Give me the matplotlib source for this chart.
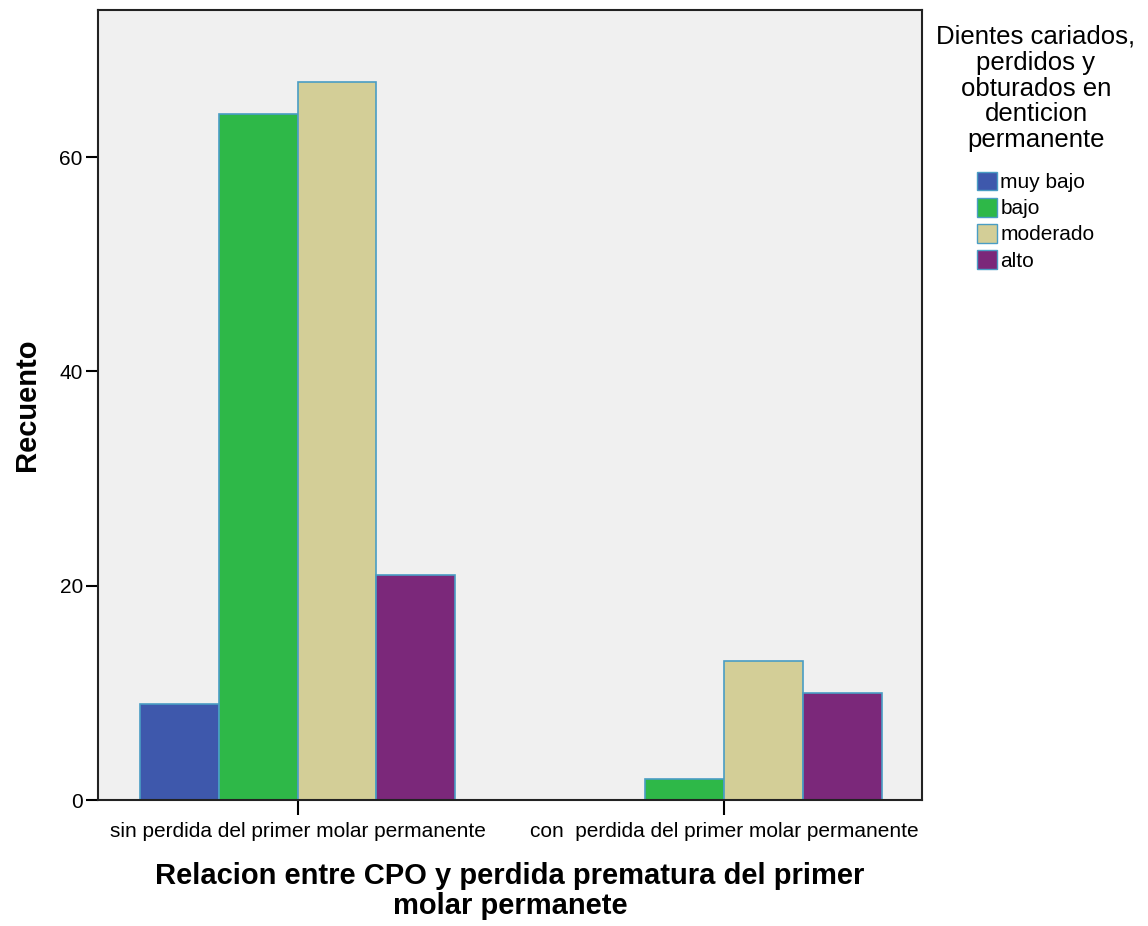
import matplotlib
matplotlib.use('Agg')
import matplotlib.pyplot as plt
import numpy as np

plt.rcParams['font.family'] = ['Liberation Sans', 'DejaVu Sans']

categories = ['sin perdida del primer molar permanente', 'con  perdida del primer molar permanente']
series = ['muy bajo', 'bajo', 'moderado', 'alto']
muy_bajo = [9, 0]
bajo = [64, 2]
moderado = [67, 13]
alto = [21, 10]
colors = ['#3E58AC', '#2EB848', '#D3CE97', '#7B287A']

fig = plt.figure(figsize=(11.48, 9.26), dpi=100)
ax = fig.add_axes([0.0854, 0.136, 0.7176, 0.853])
ax.set_facecolor('#F0F0F0')

x = np.arange(len(categories))
w = 0.185
values = [muy_bajo, bajo, moderado, alto]
for i, (name, vals, c) in enumerate(zip(series, values, colors)):
	pos = x + (i - 1.5) * w
	for p, v in zip(pos, vals):
		if v > 0:
			ax.bar(p, v, width=w, color=c, edgecolor='#4A9DC4', linewidth=1.2)
	ax.bar([0], [0], width=0, color=c, edgecolor='#4A9DC4', label=name)

ax.set_xlim(-0.468, 1.464)
ax.set_ylim(0, 73.7)
ax.set_yticks([0, 20, 40, 60])
ax.set_xticks(x)
ax.set_xticklabels(categories, fontsize=15)
ax.tick_params(axis='y', labelsize=15, length=9, width=1.5, pad=2)
ax.tick_params(axis='x', length=11, width=1.5, pad=5)
for s in ax.spines.values():
	s.set_linewidth(1.5)
	s.set_color('#222222')

ax.set_ylabel('Recuento', fontsize=21, fontweight='bold', labelpad=13)
ax.set_xlabel('Relacion entre CPO y perdida prematura del primer\nmolar permanete',
	fontsize=21, fontweight='bold', labelpad=15, linespacing=1.08)

leg = ax.legend(title='Dientes cariados,\nperdidos y\nobturados en\ndenticion\npermanente',
	loc='upper left', bbox_to_anchor=(1.0, 1.0), frameon=False, fontsize=15,
	title_fontsize=18.5, handlelength=0.95, handleheight=1.0, handletextpad=0.15,
	labelspacing=0.27, borderaxespad=0.3)
leg.get_title().set_multialignment('center')
leg.get_title().set_linespacing(1.1)
leg._legend_box.align = 'center'
leg._legend_box.sep = 14

fig.savefig('out.png', dpi=100)
